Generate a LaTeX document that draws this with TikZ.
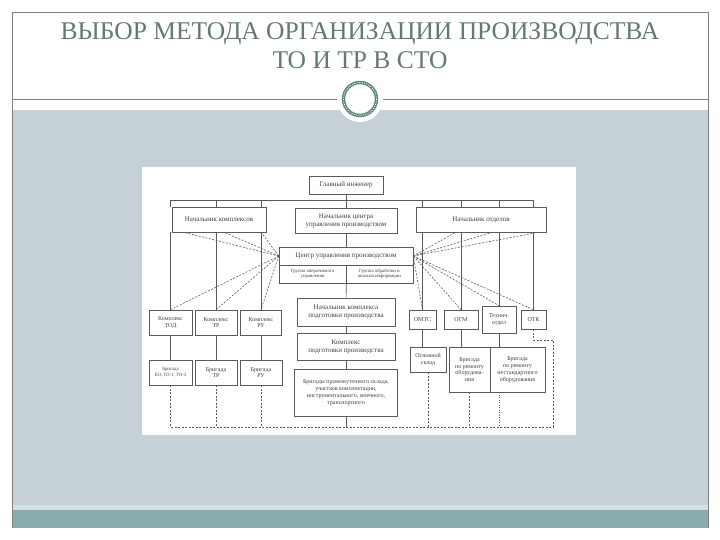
\documentclass[tikz,border=0pt]{standalone}
\usepackage{fontspec}
\setmainfont{Liberation Serif}

\definecolor{titlegray}{HTML}{637A74}
\definecolor{slidegray}{HTML}{C5D0D7}
\definecolor{slideteal}{HTML}{8AABAB}
\definecolor{ringteal}{HTML}{5E8480}
\definecolor{scanline}{HTML}{5A5A5A}
\definecolor{scantext}{HTML}{404040}

\begin{document}
\begin{tikzpicture}[x=1pt, y=-1pt,
    blok/.style={draw=scanline, fill=white, line width=0.6pt, align=center,
      inner sep=1pt, text=scantext, font=\fontsize{7}{8}\selectfont},
    mazas/.style={blok, font=\fontsize{6}{6.8}\selectfont},
    smulkus/.style={blok, font=\fontsize{4.8}{5.5}\selectfont},
    ryssys/.style={draw=scanline, line width=0.6pt},
    punkt/.style={ryssys, dash pattern=on 2pt off 1.5pt}]
    \useasboundingbox (0,0) rectangle (720,540);
    \fill[white] (0,0) rectangle (720,540);

    % Skaidres fonas
    \fill[slidegray] (12,110) rectangle (708,505);
    \fill[slideteal!35!white] (12,505) rectangle (708,510);
    \fill[slideteal] (12,510) rectangle (708,528);
    \draw[gray, line width=0.8pt] (12,528) -- (12,12) -- (708,12) -- (708,528);
    \draw[gray, line width=0.8pt] (12,99) -- (708,99);

    % Ziedas
    \fill[white] (360,99) circle (23);
    \draw[ringteal, line width=3.4pt] (360,99) circle (16.5);
    \draw[white, line width=0.7pt, dash pattern=on 1.2pt off 1.2pt] (360,99) circle (16.5);

    % Pavadinimas
    \node[text=titlegray, font=\fontsize{25.5}{29}\selectfont, align=center] (title) at (360,46)
      {ВЫБОР МЕТОДА ОРГАНИЗАЦИИ ПРОИЗВОДСТВА\\ТО И ТР В СТО};

    % Schemos laukas
    \fill[white] (142,167) rectangle (576,435);
    \coordinate (bus) at (0,200);
    \coordinate (apa) at (553,427);
    \coordinate (otkk) at (553,340);

    % Vidurinis stulpelis
    \node[blok, minimum width=74, minimum height=18] (gi) at (346,185) {Главный инженер};
    \node[blok, minimum width=102, minimum height=25] (nc) at (346,220.5)
      {Начальник центра\\управления производством};
    \node[blok, minimum width=134, minimum height=18] (cup) at (346,256)
      {Центр управления производством};
    \node[smulkus, minimum width=67, minimum height=18] (gou) at (312.5,274)
      {Группа оперативного\\управления};
    \node[smulkus, minimum width=67, minimum height=18] (goi) at (379.5,274)
      {Группа обработки и\\анализа информации};
    \node[blok, minimum width=98, minimum height=28] (nkp) at (346,312)
      {Начальник комплекса\\подготовки производства};
    \node[blok, minimum width=98, minimum height=27] (kp) at (346,346.5)
      {Комплекс\\подготовки производства};
    \node[mazas, minimum width=103, minimum height=47] (br) at (346,392.5)
      {Бригады промежуточного склада,\\участков комплектации,\\инструментального, моечного,\\транспортного};

    % Kairys stulpelis
    \node[blok, minimum width=94, minimum height=25] (nk) at (219,219.5) {Начальник комплексов};
    \node[mazas, minimum width=43, minimum height=25] (ktod) at (170.5,322.5) {Комплекс\\ТОД};
    \node[mazas, minimum width=42, minimum height=25] (ktr) at (216,322.5) {Комплекс\\ТР};
    \node[mazas, minimum width=41, minimum height=25] (kru) at (261,322.5) {Комплекс\\РУ};
    \node[smulkus, minimum width=43, minimum height=25] (btod) at (170.5,372.5) {Бригада\\ЕО, ТО-1, ТО-2};
    \node[mazas, minimum width=42, minimum height=25] (btr) at (216,372.5) {Бригада\\ТР};
    \node[mazas, minimum width=42, minimum height=25] (bru) at (261,372.5) {Бригада\\РУ};

    % Desinys stulpelis
    \node[blok, minimum width=130, minimum height=25] (no) at (481,219.5) {Начальник отделов};
    \node[mazas, minimum width=27, minimum height=19] (omts) at (422.5,319.5) {ОМТС};
    \node[mazas, minimum width=34, minimum height=19] (ogm) at (461,319.5) {ОГМ};
    \node[mazas, minimum width=34, minimum height=27] (to) at (499,319.5) {Технич.\\отдел};
    \node[mazas, minimum width=25, minimum height=19] (otk) at (533.5,319.5) {ОТК};
    \node[mazas, minimum width=36, minimum height=25] (osk) at (428,359.5) {Основной\\склад};
    \node[mazas, minimum width=41, minimum height=45] (brob) at (469.5,369.5)
      {Бригада\\по ремонту\\оборудова-\\ния};
    \node[mazas, minimum width=55, minimum height=45] (brno) at (517.5,369.5)
      {Бригада\\по ремонту\\нестандартного\\оборудования};

    % Pavaldumo linijos
    \draw[ryssys] (ktod |- bus) -- (otk |- bus);
    \draw[ryssys] (gi) -- (nc);
    \draw[ryssys] (nc) -- (cup);
    \draw[ryssys] (gou.south east) -- (nkp);
    \draw[ryssys] (nkp) -- (kp);
    \draw[ryssys] (kp) -- (br);
    \foreach \k/\b in {ktod/btod, ktr/btr, kru/bru} {
      \draw[ryssys] (\k |- bus) -- (\k |- nk.north);
      \draw[ryssys] (\k |- nk.south) -- (\k);
      \draw[ryssys] (\k) -- (\b);
    }
    \foreach \k/\b in {omts/osk, ogm/brob, to/brno} {
      \draw[ryssys] (\k |- bus) -- (\k |- no.north);
      \draw[ryssys] (\k |- no.south) -- (\k);
      \draw[ryssys] (\k) -- (\k |- \b.north);
    }
    \draw[ryssys] (otk |- bus) -- (otk |- no.north);
    \draw[ryssys] (otk |- no.south) -- (otk);

    % Informacijos rysiai (punktyrines)
    \draw[punkt] (cup.west) -- ([xshift=12]nk.south west);
    \draw[punkt] (cup.west) -- ([xshift=5]nk.south);
    \draw[punkt] (cup.west) -- ([xshift=-5]nk.south east);
    \draw[punkt] (cup.east) -- ([xshift=40]no.south west);
    \draw[punkt] (cup.east) -- ([xshift=77]no.south west);
    \draw[punkt] (cup.east) -- ([xshift=-8]no.south east);
    \foreach \k in {ktod, ktr, kru}
      \draw[punkt] (cup.west) -- (\k.north);
    \foreach \k in {omts, ogm, to, otk}
      \draw[punkt] (cup.east) -- (\k.north);

    % Apatine grandine
    \draw[punkt] (otk) -- (otk |- otkk) -- (otkk) -- (apa) -- (btod |- apa);
    \foreach \b in {btod, btr, bru, osk, brob}
      \draw[punkt] (\b) -- (\b |- apa);
    \draw[ryssys] (br) -- (br |- apa);
    \draw[ryssys, dash pattern=on 1pt off 1.5pt] (to |- brno.south) -- (to |- apa);
\end{tikzpicture}
\end{document}
